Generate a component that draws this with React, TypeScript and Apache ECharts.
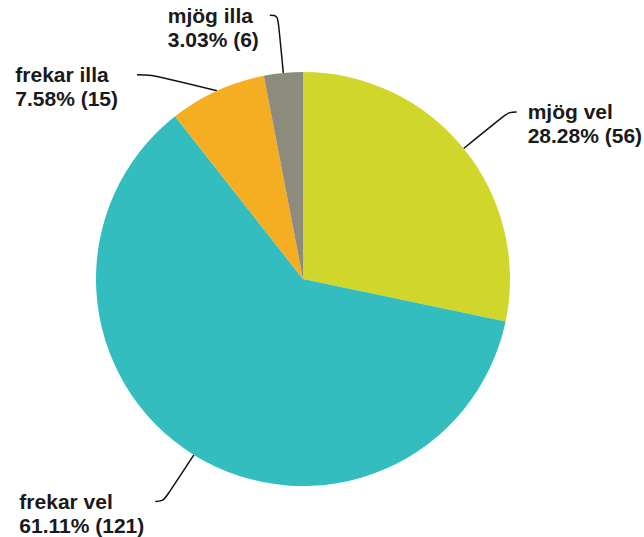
import React, { useEffect, useRef } from "react";
import * as echarts from "echarts";

const categories = ["mjög vel", "frekar vel", "frekar illa", "mjög illa"];
const counts = [56, 121, 15, 6];
const colors = ["#d0d62a", "#33bdbf", "#f5ae22", "#8c8b7c"];

export default function App() {
  const ref = useRef<HTMLDivElement>(null);
  useEffect(() => {
    document.body.style.margin = "0";
    const chart = echarts.init(ref.current!, null, { renderer: "svg" });
    chart.setOption({
      animation: false,
      series: [
        {
          type: "pie",
          center: [303, 279],
          radius: [0, 207],
          startAngle: 90,
          clockwise: true,
          data: categories.map((name, i) => ({
            name,
            value: counts[i],
            itemStyle: { color: colors[i] },
            label:
              i === 2
                ? {
                    formatter: "{s| }\n{t|{b}}\n{t|{d}% ({c})}",
                    padding: [14, 0, 0, 0],
                    distanceToLabelLine: 19,
                  }
                : undefined,
            labelLine: i === 2 ? { length2: 15 } : undefined,
          })),
          label: {
            show: true,
            position: "outside",
            overflow: "none",
            formatter: "{t|{b}}\n{t|{d}% ({c})}",
            distanceToLabelLine: 11,
            padding: [24, 0, 0, 0],
            rich: {
              t: {
                align: "left",
                fontFamily: "'Liberation Sans', Arial, sans-serif",
                fontSize: 21,
                fontWeight: "bold",
                lineHeight: 24,
                color: "#1a1a1a",
              },
              s: {
                fontSize: 12,
                lineHeight: 10,
              },
            },
          },
          labelLine: {
            show: true,
            length: 58,
            length2: 8,
            smooth: 0.4,
            lineStyle: { color: "#111", width: 1.5 },
          },
          emphasis: { disabled: true },
        },
      ],
    });
    return () => chart.dispose();
  }, []);
  return <div ref={ref} style={{ width: 644, height: 537 }} />;
}
